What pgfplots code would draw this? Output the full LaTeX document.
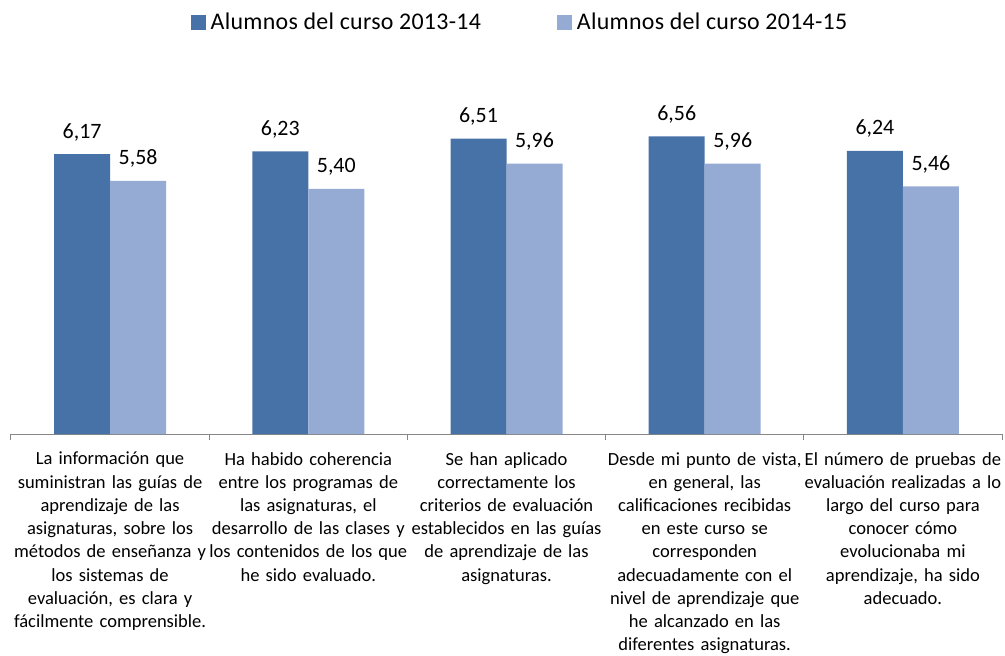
\documentclass[border=0pt]{standalone}
\usepackage{pgfplots}
\pgfplotsset{compat=1.18}
\usepackage{fontspec}
\setmainfont{Carlito}
\definecolor{dark}{HTML}{4672A7}
\definecolor{light}{HTML}{95ABD3}
\definecolor{axgray}{HTML}{868686}
\begin{document}
\begin{tikzpicture}
\path[use as bounding box] (-11bp,-222bp) rectangle (994bp,434bp);
\begin{axis}[
 at={(0,0)}, anchor=south west,
 scale only axis, width=991bp, height=363bp,
 xmin=-0.5, xmax=4.5, ymin=0, ymax=8,
 axis x line*=bottom, axis y line=none,
 x axis line style={axgray, line width=1bp, -},
 ybar=0pt, bar width=56bp,
 xtick={0,1,2,3,4}, major tick length=0pt,
 minor xtick={-0.5,0.5,1.5,2.5,3.5,4.5}, minor tick length=6bp,
 tick align=outside, minor tick style={axgray, line width=1bp},
 ytick=\empty,
 xticklabels={
  {La información que\\ suministran las guías de\\ aprendizaje de las\\ asignaturas, sobre los\\ métodos de enseñanza y\\ los sistemas de\\ evaluación, es clara y\\ fácilmente comprensible.},
  {Ha habido coherencia\\ entre los programas de\\ las asignaturas, el\\ desarrollo de las clases y\\ los contenidos de los que\\ he sido evaluado.},
  {Se han aplicado\\ correctamente los\\ criterios de evaluación\\ establecidos en las guías\\ de aprendizaje de las\\ asignaturas.},
  {Desde mi punto de vista,\\ en general, las\\ calificaciones recibidas\\ en este curso se\\ corresponden\\ adecuadamente con el\\ nivel de aprendizaje que\\ he alcanzado en las\\ diferentes asignaturas.},
  {El número de pruebas de\\ evaluación realizadas a lo\\ largo del curso para\\ conocer cómo\\ evolucionaba mi\\ aprendizaje, ha sido\\ adecuado.}
 },
 xticklabel style={font=\fontsize{18.6}{23.3}\selectfont, text width=240bp, align=center, anchor=north, inner sep=0pt, yshift=-18bp},
 nodes near coords={\pgfmathprintnumber[use comma, fixed, fixed zerofill, precision=2, assume math mode=true]{\pgfplotspointmeta}},
 nodes near coords style={font=\fontsize{22}{26}\selectfont, anchor=south, inner sep=0pt, yshift=13bp, text=black},
 legend style={at={(0.5136,1.135)}, anchor=center, draw=none, fill=none, legend columns=2,
   font=\fontsize{24}{28}\selectfont\addfontfeatures{LetterSpace=1.2}, /tikz/every even column/.append style={column sep=74bp}},
 legend image code/.code={\fill[#1] (0bp,-7.5bp) rectangle (15bp,7.5bp); \path (18bp,0bp);},
]
\addplot[fill=dark, draw=none] coordinates {(0,6.17) (1,6.23) (2,6.51) (3,6.56) (4,6.24)};
\addplot[fill=light, draw=none] coordinates {(0,5.58) (1,5.40) (2,5.96) (3,5.96) (4,5.46)};
\legend{Alumnos del curso 2013-14, Alumnos del curso 2014-15}
\end{axis}
\end{tikzpicture}
\end{document}
